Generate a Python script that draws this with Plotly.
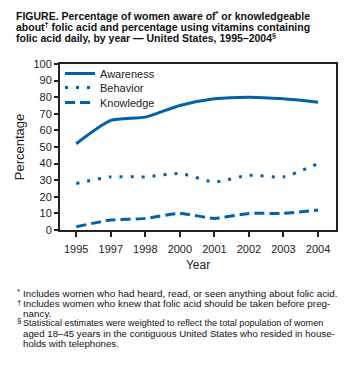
import plotly.graph_objects as go

years = ["1995", "1997", "1998", "2000", "2001", "2002", "2003", "2004"]
awareness = [52, 66, 68, 75, 79, 80, 79, 77]
behavior = [28, 32, 32, 34, 29, 33, 32, 40]
knowledge = [2, 6, 7, 10, 7, 10, 10, 12]
y_ticks = list(range(0, 101, 10))

BLUE = "#0062AC"
FONT = "Arial, Liberation Sans, sans-serif"
TOP, BOT = 64, 230  # plot area pixel rows


def py(ypx):
    return (BOT - ypx) / (BOT - TOP)


fig = go.Figure()
fig.add_trace(go.Scatter(x=years, y=awareness, name="Awareness", mode="lines", legend="legend",
                         line=dict(color=BLUE, width=3, shape="spline", smoothing=0.6)))
fig.add_trace(go.Scatter(x=years, y=behavior, name="Behavior", mode="lines", legend="legend2",
                         line=dict(color=BLUE, width=3, shape="spline", smoothing=0.6, dash="3px,8px")))
fig.add_trace(go.Scatter(x=years, y=knowledge, name="Knowledge", mode="lines", legend="legend3",
                         line=dict(color=BLUE, width=3, shape="spline", smoothing=0.6, dash="10px,5px")))

leg = dict(x=0.0, xanchor="left", yanchor="top", bgcolor="rgba(0,0,0,0)",
           font=dict(size=11, family=FONT, color="#222"), itemwidth=30)
fig.update_layout(
    width=352, height=365,
    margin=dict(l=60, r=16, t=TOP, b=365 - BOT),
    paper_bgcolor="white", plot_bgcolor="white",
    font=dict(family=FONT, color="#222", size=10),
    showlegend=True,
    legend=dict(leg, y=py(71 - 12)),
    legend2=dict(leg, y=py(85 - 12)),
    legend3=dict(leg, y=py(100 - 12)),
    xaxis=dict(type="category", range=[-0.47, 7.52], showgrid=False,
               showline=True, linecolor="#222", linewidth=2, mirror=True,
               ticks="outside", ticklen=5, tickcolor="#222", tickwidth=1.5, ticklabelstandoff=3,
               tickfont=dict(size=11, family=FONT), title=dict(text="Year", font=dict(size=12), standoff=6)),
    yaxis=dict(range=[0, 100], tickvals=y_ticks, showgrid=False, zeroline=False,
               showline=True, linecolor="#222", linewidth=2, mirror=True,
               ticks="outside", ticklen=4, tickcolor="#222", tickwidth=1.5,
               tickfont=dict(size=11, family=FONT), title=dict(text="Percentage", font=dict(size=13), standoff=6)),
)

title_lines = [
    ("FIGURE. Percentage of women aware of<sup>*</sup> or knowledgeable", 15),
    ("about<sup>†</sup> folic acid and percentage using vitamins containing", 26),
    ("folic acid daily, by year — United States, 1995–2004<sup>§</sup>", 37),
]
for txt, ypx in title_lines:
    fig.add_annotation(text="<b>" + txt + "</b>", xref="paper", yref="paper", x=0, xshift=-46,
                       y=py(ypx), xanchor="left", yanchor="middle", align="left", showarrow=False,
                       font=dict(size=10.5, family=FONT, color="#111"))

marks = [("*", 291), ("†", 302), ("§", 320)]
for m, ypx in marks:
    fig.add_annotation(text=m, xref="paper", yref="paper", x=0, xshift=-45,
                       y=py(ypx), xanchor="left", yanchor="middle", showarrow=False,
                       font=dict(size=8, family=FONT, color="#111"))

note_lines = [
    ("Includes women who had heard, read, or seen anything about folic acid.", 293, 9.9),
    ("Includes women who knew that folic acid should be taken before preg-", 303, 9.9),
    ("nancy.", 313, 9.9),
    ("Statistical estimates were weighted to reflect the total population of women", 323, 9.1),
    ("aged 18–45 years in the contiguous United States who resided in house-", 333, 9.7),
    ("holds with telephones.", 343, 9.7),
]
for txt, ypx, sz in note_lines:
    fig.add_annotation(text=txt, xref="paper", yref="paper", x=0, xshift=-39,
                       y=py(ypx), xanchor="left", yanchor="middle", align="left", showarrow=False,
                       font=dict(size=sz, family=FONT, color="#111"))

fig.write_html("out.html")
